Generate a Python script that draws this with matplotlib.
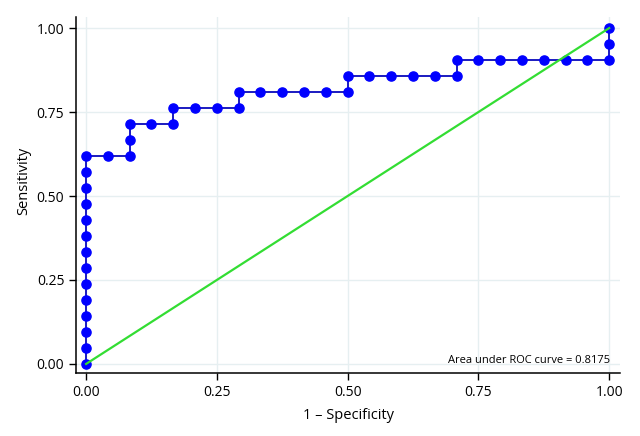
import matplotlib
matplotlib.use("Agg")
import matplotlib.pyplot as plt

# ROC points as counts: false positives out of 24 negatives, true positives out of 21 positives
n_neg = 24
n_pos = 21
fp_counts = [0, 0, 0, 0, 0, 0, 0, 0, 0, 0, 0, 0, 0, 0,
             1, 2, 2, 2, 3, 4, 4, 5, 6, 7, 7, 8, 9, 10, 11, 12,
             12, 13, 14, 15, 16, 17, 17, 18, 19, 20, 21, 22, 23, 24,
             24, 24]
tp_counts = [0, 1, 2, 3, 4, 5, 6, 7, 8, 9, 10, 11, 12, 13,
             13, 13, 14, 15, 15, 15, 16, 16, 16, 16, 17, 17, 17, 17, 17, 17,
             18, 18, 18, 18, 18, 18, 19, 19, 19, 19, 19, 19, 19, 19,
             20, 21]
auc_text = "Area under ROC curve = 0.8175"
ticks = [0.0, 0.25, 0.5, 0.75, 1.0]
tick_labels = ["0.00", "0.25", "0.50", "0.75", "1.00"]

plt.rcParams["font.family"] = ["Open Sans", "DejaVu Sans"]

fpr = [v / n_neg for v in fp_counts]
tpr = [v / n_pos for v in tp_counts]

fig = plt.figure(figsize=(6.4, 4.36), dpi=100)
ax = fig.add_axes([0.119, 0.1445, 0.85, 0.8165])

ax.plot(fpr, tpr, color="#1a1ac0", linewidth=1.4, marker="o",
        markersize=6.6, markerfacecolor="#0000ff", markeredgecolor="#0000ff",
        zorder=3)
ax.plot([0, 1], [0, 1], color="#33dd33", linewidth=1.6, zorder=4)

ax.text(1.002, 0.01, auc_text, ha="right", va="center", fontsize=8.0)

ax.set_xlim(-0.019, 1.021)
ax.set_ylim(-0.027, 1.033)
ax.set_xticks(ticks)
ax.set_xticklabels(tick_labels)
ax.set_yticks(ticks)
ax.set_yticklabels(tick_labels)
ax.tick_params(direction="out", length=5, width=1, labelsize=10, colors="black")
ax.grid(True, color="#e6eff1", linewidth=1)
ax.set_axisbelow(True)
for side in ["top", "right"]:
    ax.spines[side].set_visible(False)
for side in ["left", "bottom"]:
    ax.spines[side].set_linewidth(1.1)

ax.set_xlabel("1 \u2013 Specificity", fontsize=10.5, labelpad=6)
ax.set_ylabel("Sensitivity", fontsize=10.5, va="center")
ax.yaxis.set_label_coords(-0.096, 0.539)

fig.savefig("out.png", dpi=100, facecolor="white")
